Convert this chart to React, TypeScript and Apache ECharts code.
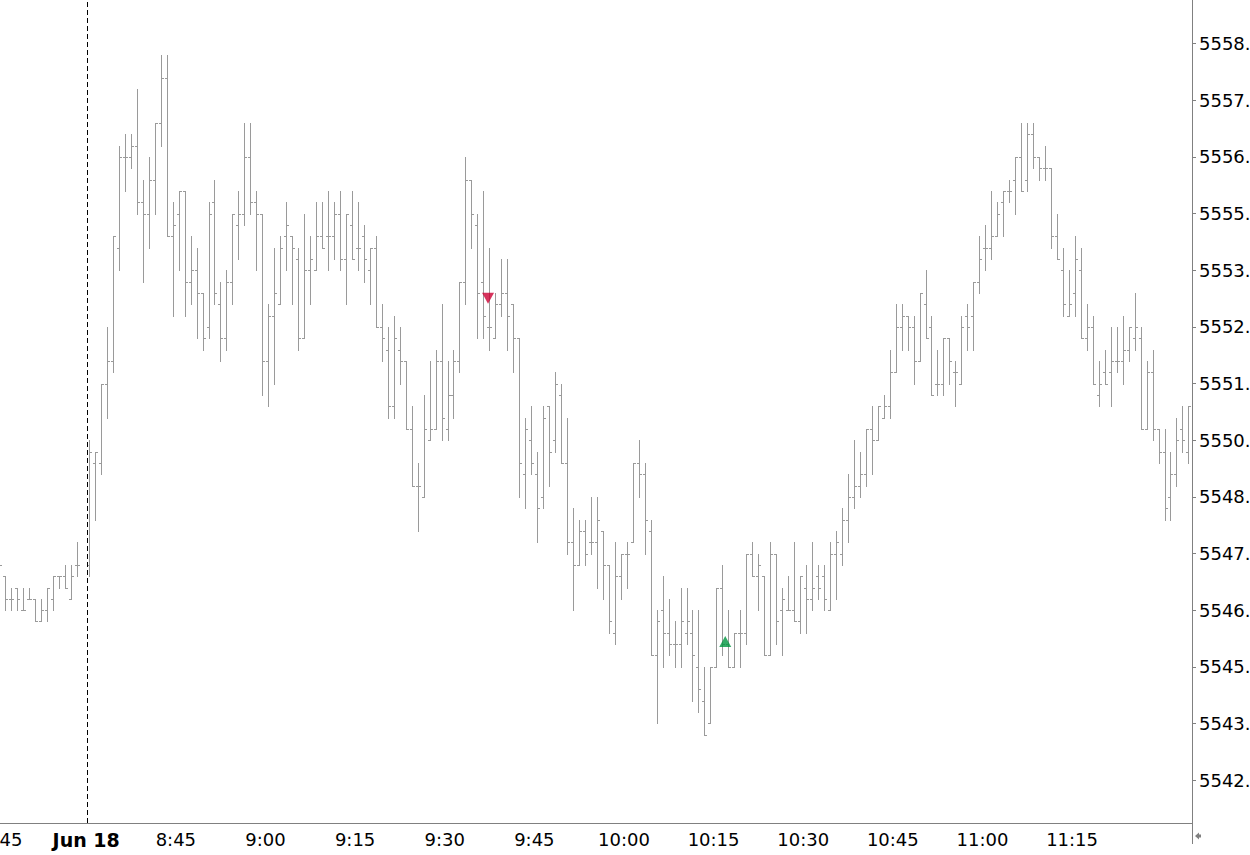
import React, { useEffect, useRef } from 'react';
import * as echarts from 'echarts';

// ---------- categories (1-minute bars) ----------
function minuteRange(h1: number, m1: number, h2: number, m2: number): string[] {
  const out: string[] = [];
  for (let t = h1 * 60 + m1; t <= h2 * 60 + m2; t++) {
    out.push(Math.floor(t / 60) + ':' + String(t % 60).padStart(2, '0'));
  }
  return out;
}
const PREV_SESSION = minuteRange(14, 45, 14, 59);
const DAY_SESSION = minuteRange(8, 30, 11, 34);
const TIMES: string[] = [...PREV_SESSION, ...DAY_SESSION];
const DAY_START = PREV_SESSION.length;
const DAY_LABEL = 'Jun 18';
const LAST_TIME_LABEL = '11:15';

// ---------- OHLC values ----------
const OPEN: (number | null)[] = [
  5547.0, 5547.0, 5546.5, 5546.75, 5546.25, 5546.5, 5546.5, 5546.0, 5546.25, 5546.5, 5547.0, 5547.0, 5546.5, 5547.25, null,
  5547.25, 5549.5, 5549.5, 5551.25, 5551.75, 5554.25, 5556.25, 5556.25, 5556.5, 5555.25, 5555.0, 5555.75, 5557.0, 5558.0, 5554.5,
  5555.0, 5555.5, 5553.5, 5553.75, 5553.25, 5552.5, 5555.25, 5553.0, 5552.25, 5553.5, 5554.75, 5555.0, 5556.25, 5555.25, 5555.0,
  5551.75, 5552.75, 5553.0, 5554.5, 5554.5, 5554.0, 5552.25, 5553.75, 5553.75, 5554.5, 5554.5, 5554.5, 5555.0, 5554.0, 5554.75,
  5554.25, 5554.5, 5553.75, 5554.25, 5552.5, 5552.0, 5550.75, 5552.0, 5551.75, 5550.25, 5549.0, 5548.75, 5550.0, 5550.25, 5551.75,
  5550.25, 5551.0, 5551.75, 5553.5, 5555.75, 5554.75, 5553.5, 5552.5, 5552.25, 5553.0, 5553.25, 5553.0, 5552.25, 5549.25, 5550.0,
  5549.25, 5548.75, 5550.75, 5550.0, 5551.0, 5549.5, 5547.75, 5547.25, 5548.0, 5547.75, 5547.75, 5548.0, 5547.25, 5545.75, 5547.0,
  5547.5, 5547.75, 5549.5, 5549.25, 5548.0, 5545.25, 5546.25, 5545.75, 5545.5, 5545.5, 5545.75, 5545.75, 5545.0, 5544.25, 5543.75,
  5545.0, 5546.75, 5545.5, 5545.0, 5545.75, 5545.75, 5547.5, 5547.0, 5547.0, 5545.25, 5547.5, 5546.25, 5546.25, 5546.25, 5546.0,
  5546.75, 5546.5, 5547.0, 5547.0, 5546.25, 5547.5, 5547.5, 5548.25, 5548.75, 5549.0, 5549.25, 5550.25, 5550.0, 5550.5, 5550.75,
  5551.5, 5552.5, 5552.75, 5552.5, 5551.75, 5553.0, 5552.5, 5551.25, 5551.25, 5552.25, 5551.5, 5551.25, 5552.75, 5552.75, 5553.5,
  5554.25, 5554.25, 5554.5, 5555.25, 5555.5, 5555.75, 5556.25, 5555.75, 5556.75, 5556.25, 5556.0, 5556.0, 5554.5, 5553.75, 5552.75,
  5553.25, 5553.75, 5552.25, 5552.5, 5551.0, 5551.5, 5551.5, 5551.75, 5551.75, 5552.0, 5552.25, 5552.25, 5550.25, 5551.5, 5550.25,
  5549.75, 5548.75, 5549.25, 5550.25, 5549.75,
];
const HIGH: (number | null)[] = [
  5547.5, 5547.0, 5546.75, 5546.75, 5546.75, 5546.75, 5546.5, 5546.5, 5546.75, 5547.0, 5547.0, 5547.25, 5547.25, 5547.75, null,
  5550.0, 5549.75, 5551.25, 5552.5, 5554.5, 5556.5, 5556.75, 5556.75, 5557.75, 5555.75, 5556.25, 5557.0, 5558.5, 5558.5, 5555.25,
  5555.5, 5555.5, 5554.5, 5554.25, 5553.25, 5555.25, 5555.75, 5553.5, 5553.75, 5555.0, 5555.5, 5557.0, 5557.0, 5555.5, 5555.0,
  5553.0, 5554.25, 5554.5, 5555.25, 5554.5, 5554.25, 5555.0, 5554.5, 5555.25, 5555.25, 5555.5, 5555.25, 5555.5, 5555.0, 5555.5,
  5555.25, 5554.75, 5554.25, 5554.5, 5553.0, 5552.5, 5552.75, 5552.5, 5551.75, 5550.75, 5549.5, 5551.0, 5551.75, 5552.0, 5553.0,
  5551.75, 5552.0, 5553.5, 5556.25, 5555.75, 5555.0, 5555.5, 5554.25, 5553.25, 5554.0, 5554.0, 5553.0, 5552.25, 5550.5, 5550.75,
  5549.75, 5550.75, 5550.75, 5551.5, 5551.25, 5550.5, 5548.5, 5548.25, 5548.25, 5548.75, 5548.75, 5548.0, 5547.25, 5547.75, 5547.5,
  5547.75, 5549.5, 5550.0, 5549.5, 5548.25, 5546.25, 5547.0, 5546.5, 5546.0, 5546.75, 5546.75, 5546.25, 5546.25, 5545.0, 5545.0,
  5546.75, 5547.25, 5546.25, 5545.75, 5546.25, 5547.5, 5547.75, 5547.5, 5547.0, 5547.75, 5547.5, 5546.75, 5547.0, 5547.75, 5547.0,
  5547.25, 5547.75, 5547.25, 5547.25, 5547.75, 5548.0, 5548.5, 5549.25, 5550.0, 5549.75, 5550.25, 5550.75, 5550.75, 5551.0, 5552.0,
  5553.0, 5553.0, 5552.75, 5552.75, 5553.25, 5553.75, 5552.75, 5552.0, 5552.25, 5552.25, 5551.75, 5552.75, 5553.0, 5553.5, 5554.5,
  5554.75, 5555.5, 5555.25, 5555.5, 5555.75, 5556.25, 5557.0, 5557.0, 5557.0, 5556.25, 5556.5, 5556.0, 5555.0, 5554.25, 5553.75,
  5554.5, 5554.25, 5553.0, 5552.75, 5551.75, 5552.0, 5552.5, 5552.5, 5552.75, 5552.5, 5553.25, 5552.5, 5551.75, 5552.0, 5550.25,
  5550.25, 5549.75, 5550.5, 5550.75, 5550.75,
];
const LOW: (number | null)[] = [
  5547.0, 5546.25, 5546.25, 5546.25, 5546.25, 5546.5, 5546.0, 5546.0, 5546.0, 5546.25, 5546.75, 5546.75, 5546.5, 5547.0, null,
  5547.0, 5548.25, 5549.25, 5550.5, 5551.5, 5553.75, 5555.5, 5556.0, 5555.0, 5553.5, 5554.25, 5555.0, 5556.5, 5554.5, 5552.75,
  5553.75, 5552.75, 5553.0, 5552.25, 5552.0, 5552.25, 5553.0, 5551.75, 5552.0, 5553.0, 5554.0, 5554.75, 5555.0, 5553.75, 5551.0,
  5550.75, 5551.25, 5553.0, 5553.75, 5553.0, 5552.0, 5552.25, 5553.0, 5553.75, 5554.25, 5553.75, 5554.0, 5553.75, 5553.0, 5554.0,
  5553.75, 5553.5, 5553.0, 5552.5, 5551.75, 5550.5, 5550.5, 5551.25, 5550.25, 5549.0, 5548.0, 5548.75, 5550.0, 5550.25, 5550.0,
  5550.0, 5550.5, 5551.5, 5553.0, 5554.25, 5552.25, 5552.25, 5552.0, 5552.25, 5552.75, 5552.0, 5551.5, 5548.75, 5548.5, 5549.25,
  5547.75, 5548.5, 5549.0, 5549.75, 5549.5, 5547.5, 5546.25, 5547.25, 5547.25, 5547.5, 5546.75, 5546.5, 5545.75, 5545.5, 5546.5,
  5546.75, 5547.75, 5548.75, 5547.5, 5545.25, 5543.75, 5545.0, 5545.25, 5545.0, 5545.0, 5545.5, 5544.25, 5544.0, 5543.5, 5543.75,
  5545.0, 5545.25, 5545.0, 5545.0, 5545.0, 5545.5, 5547.0, 5546.25, 5545.25, 5545.25, 5545.5, 5545.25, 5546.25, 5546.0, 5545.75,
  5545.75, 5546.25, 5546.5, 5546.25, 5546.25, 5546.5, 5547.25, 5547.75, 5548.5, 5548.75, 5549.0, 5549.25, 5550.0, 5550.5, 5550.5,
  5551.5, 5552.0, 5552.0, 5551.25, 5551.75, 5552.25, 5551.0, 5551.0, 5551.0, 5551.25, 5550.75, 5551.25, 5552.0, 5552.0, 5553.25,
  5553.75, 5554.0, 5554.5, 5554.5, 5555.25, 5555.0, 5555.5, 5555.5, 5556.0, 5555.75, 5555.75, 5554.25, 5554.0, 5552.75, 5552.75,
  5552.75, 5552.25, 5552.0, 5551.25, 5550.75, 5551.25, 5550.75, 5551.5, 5551.25, 5551.75, 5552.0, 5550.25, 5550.25, 5550.0, 5549.5,
  5548.25, 5548.25, 5549.0, 5549.75, 5549.5,
];
const CLOSE: (number | null)[] = [
  5547.25, 5546.5, 5546.5, 5546.5, 5546.25, 5546.5, 5546.0, 5546.25, 5546.75, 5547.0, 5547.0, 5546.75, 5547.0, 5547.25, null,
  5549.75, 5549.75, 5551.25, 5551.75, 5554.5, 5556.25, 5556.25, 5556.5, 5555.25, 5555.0, 5555.75, 5557.0, 5558.0, 5554.5, 5554.75,
  5555.5, 5553.5, 5553.75, 5553.25, 5552.25, 5555.0, 5553.25, 5552.25, 5553.5, 5555.0, 5555.0, 5556.25, 5555.25, 5555.0, 5551.75,
  5552.75, 5553.25, 5554.25, 5554.75, 5554.25, 5552.25, 5553.75, 5554.0, 5554.5, 5554.25, 5554.5, 5555.0, 5554.0, 5555.0, 5554.0,
  5554.25, 5554.0, 5554.25, 5552.5, 5552.25, 5550.75, 5552.25, 5551.75, 5550.25, 5549.0, 5549.0, 5550.25, 5550.25, 5551.75, 5550.5,
  5551.0, 5551.75, 5553.5, 5555.75, 5555.0, 5553.25, 5552.75, 5552.5, 5553.0, 5553.25, 5552.75, 5552.25, 5549.5, 5550.25, 5549.5,
  5548.5, 5550.5, 5549.75, 5551.25, 5549.5, 5547.75, 5547.25, 5548.0, 5547.5, 5547.75, 5548.25, 5547.25, 5546.0, 5547.0, 5547.5,
  5547.5, 5549.5, 5549.25, 5548.25, 5545.25, 5546.0, 5545.75, 5545.5, 5545.5, 5546.0, 5546.0, 5545.25, 5544.5, 5543.5, 5545.0,
  5546.75, 5545.5, 5545.0, 5545.75, 5545.75, 5547.5, 5547.0, 5547.25, 5545.25, 5547.5, 5546.0, 5546.5, 5546.25, 5546.0, 5547.0,
  5546.5, 5546.75, 5546.75, 5546.5, 5547.5, 5547.75, 5548.25, 5548.75, 5549.0, 5549.25, 5550.25, 5550.0, 5550.75, 5550.75, 5551.5,
  5552.5, 5552.75, 5552.5, 5551.75, 5553.25, 5552.25, 5551.0, 5551.25, 5552.25, 5551.75, 5551.5, 5552.5, 5552.5, 5553.5, 5554.0,
  5554.25, 5554.5, 5555.0, 5555.5, 5555.5, 5556.25, 5555.5, 5556.75, 5556.25, 5556.0, 5556.0, 5554.5, 5554.0, 5553.0, 5553.0,
  5554.0, 5552.25, 5552.5, 5551.25, 5551.25, 5551.25, 5551.75, 5551.75, 5552.0, 5552.5, 5552.5, 5550.25, 5551.5, 5550.25, 5549.75,
  5548.5, 5549.25, 5550.0, 5550.0, 5550.75,
];

// price scale tick labels
const Y_TICKS = [
  5542.5, 5543.75, 5545.0, 5546.25, 5547.5, 5548.75, 5550.0,
  5551.25, 5552.5, 5553.75, 5555.0, 5556.25, 5557.5, 5558.75,
];
const Y_MIN = 5541.555;
const Y_MAX = 5559.71;

// signal arrows: [bar position, price]
const SELL_SIGNALS: number[][] = [[81.7, 5553.13]];
const BUY_SIGNALS: number[][] = [[121.4, 5545.56]];

// ---------- layout ----------
const SHIFT = 60; // chart canvas starts 60px left of the page
const CHART_W = 1360;
const CHART_H = 855;
const AXIS_X = 1192; // page x of the price scale
const AXIS_Y = 823; // page y of the time scale
const BAR_PX = 5.975;
const DAY_START_PX = 89.5;
const LABEL_SHIFT = 0.55;
const FONT = 'DejaVu Sans';
const BAR_COLOR = '#9a9a9a';
const AXIS_COLOR = '#808080';

export default function App() {
  const ref = useRef<HTMLDivElement>(null);

  useEffect(() => {
    if (!ref.current) return;
    const chart = echarts.init(ref.current, undefined, { renderer: 'svg' });

    const gridW = AXIS_X + SHIFT;
    const xMin = DAY_START - (DAY_START_PX + SHIFT) / BAR_PX;
    const xMax = xMin + gridW / BAR_PX;

    const bars: number[][] = [];
    TIMES.forEach((_, i) => {
      if (OPEN[i] == null) return;
      bars.push([i, OPEN[i] as number, HIGH[i] as number, LOW[i] as number, CLOSE[i] as number]);
    });

    const lastLabelIdx = TIMES.indexOf(LAST_TIME_LABEL);
    const labelVals: number[] = [];
    TIMES.forEach((t, i) => {
      const mm = parseInt(t.split(':')[1], 10);
      if (mm % 15 === 0 && i <= lastLabelIdx) labelVals.push(i - LABEL_SHIFT);
    });

    const option: any = {
      animation: false,
      textStyle: { fontFamily: FONT },
      grid: { left: 0, top: 0, right: CHART_W - gridW, bottom: CHART_H - AXIS_Y },
      xAxis: {
        type: 'value',
        min: xMin,
        max: xMax,
        axisLine: { show: true, onZero: false, lineStyle: { color: AXIS_COLOR, width: 1 } },
        axisTick: { show: false },
        splitLine: { show: false },
        axisLabel: {
          customValues: labelVals,
          margin: 7,
          color: '#000',
          fontSize: 18,
          fontFamily: FONT,
          formatter: (v: number) => {
            const idx = Math.round(v + LABEL_SHIFT);
            if (idx === DAY_START) return '{b|' + DAY_LABEL + '}';
            return TIMES[idx] ?? '';
          },
          rich: { b: { fontWeight: 'bold', fontSize: 19, fontFamily: FONT, color: '#000' } },
        },
      },
      yAxis: {
        type: 'value',
        position: 'right',
        min: Y_MIN,
        max: Y_MAX,
        axisLine: { show: true, onZero: false, lineStyle: { color: AXIS_COLOR, width: 1 } },
        axisTick: { show: true, length: 4, customValues: Y_TICKS, lineStyle: { color: AXIS_COLOR } },
        splitLine: { show: false },
        axisLabel: {
          customValues: Y_TICKS,
          margin: 7,
          color: '#000',
          fontSize: 18,
          fontFamily: FONT,
          formatter: (v: number) => v.toFixed(2),
        },
      },
      series: [
        {
          type: 'custom',
          silent: true,
          data: bars,
          encode: { x: 0, y: [1, 2, 3, 4] },
          renderItem: (params: any, api: any) => {
            const i = api.value(0);
            const pH = api.coord([i, api.value(2)]);
            const pL = api.coord([i, api.value(3)]);
            const pO = api.coord([i, api.value(1)]);
            const pC = api.coord([i, api.value(4)]);
            const col = Math.floor(pH[0]);
            const x = col + 0.5;
            const yH = Math.round(pH[1]);
            const yL = Math.round(pL[1]) + 1;
            const yO = Math.round(pO[1]) + 0.5;
            const yC = Math.round(pC[1]) + 0.5;
            const st = { stroke: BAR_COLOR, lineWidth: 1 };
            return {
              type: 'group',
              children: [
                { type: 'line', shape: { x1: x, y1: yH, x2: x, y2: yL }, style: st },
                { type: 'line', shape: { x1: col - 2, y1: yO, x2: col, y2: yO }, style: st },
                { type: 'line', shape: { x1: col + 1, y1: yC, x2: col + 3, y2: yC }, style: st },
              ],
            };
          },
          markLine: {
            silent: true,
            symbol: 'none',
            label: { show: false },
            lineStyle: { color: '#000', width: 1, type: [5, 3] },
            data: [{ xAxis: DAY_START - 2 / BAR_PX }],
          },
        },
        {
          type: 'scatter',
          silent: true,
          data: SELL_SIGNALS,
          symbol: 'triangle',
          symbolRotate: 180,
          symbolSize: [12, 11],
          itemStyle: { color: '#cc0033' },
        },
        {
          type: 'scatter',
          silent: true,
          data: BUY_SIGNALS,
          symbol: 'triangle',
          symbolSize: [12, 11],
          itemStyle: { color: '#009640' },
        },
      ],
      graphic: [
        {
          type: 'line',
          silent: true,
          shape: { x1: gridW + 0.5, y1: AXIS_Y, x2: gridW + 0.5, y2: AXIS_Y + 21 },
          style: { stroke: AXIS_COLOR, lineWidth: 1 },
        },
        {
          type: 'polygon',
          silent: true,
          shape: {
            points: [
              [gridW + 3, 836],
              [gridW + 7, 832.5],
              [gridW + 7, 834.5],
              [gridW + 9, 834.5],
              [gridW + 9, 837.5],
              [gridW + 7, 837.5],
              [gridW + 7, 839.5],
            ],
          },
          style: { fill: AXIS_COLOR },
        },
      ],
    };

    chart.setOption(option);
    return () => chart.dispose();
  }, []);

  return (
    <div
      style={{
        position: 'fixed',
        left: 0,
        top: 0,
        width: 1250,
        height: 855,
        overflow: 'hidden',
        background: '#fff',
      }}
    >
      <div
        ref={ref}
        style={{ position: 'absolute', left: -SHIFT, top: 0, width: CHART_W, height: CHART_H }}
      />
    </div>
  );
}
